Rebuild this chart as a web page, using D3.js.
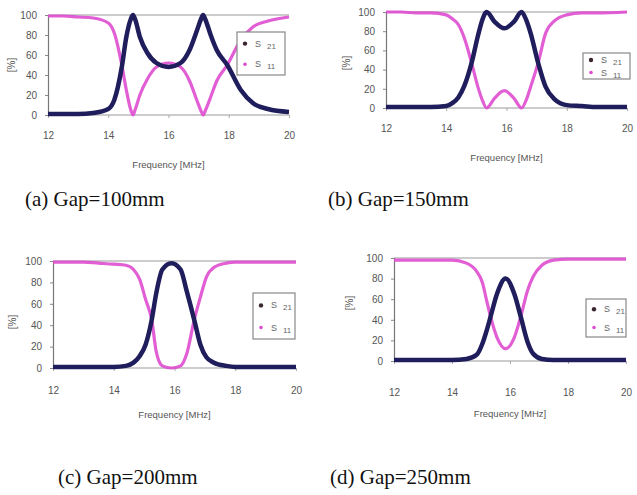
<!DOCTYPE html>
<html>
<head>
<meta charset="utf-8">
<script src="https://cdn.jsdelivr.net/npm/d3@7"></script>
<style>
    body { margin: 0; background: #fff; }
    svg { display: block; }
    .tick text { font-family: "Liberation Sans", Arial, sans-serif; fill: #555; }
</style>
</head>
<body>
<svg id="chart"></svg>
<script>
const width = 637, height = 495

// values (percent vs MHz)
const freqA = [12, 12.5, 13, 13.5, 14, 14.2, 14.45, 14.6, 14.75, 14.82, 14.9, 15.05, 15.3, 15.6, 16, 16.4, 16.7, 16.95, 17.08, 17.15, 17.23, 17.4, 17.6, 17.95, 18.4, 18.8, 19.3, 20]
const s21A = [1, 1, 1, 2, 6, 15, 48, 78, 96, 100, 95, 78, 62, 52, 48, 52, 65, 85, 96, 100, 95, 80, 65, 50, 25, 12, 6, 3]
const s11A = [99, 99, 98, 97, 92, 82, 50, 25, 5, 0, 6, 20, 36, 48, 52, 48, 34, 14, 4, 0, 5, 18, 34, 50, 75, 88, 94, 98]

const freqB = [12, 12.5, 13, 13.5, 14, 14.2, 14.4, 14.6, 14.85, 15.05, 15.2, 15.34, 15.6, 15.93, 16.25, 16.5, 16.65, 16.8, 17.05, 17.3, 17.6, 18, 18.5, 19, 20]
const s21B = [1, 1, 1, 1, 2, 5, 11, 23, 48, 75, 92, 100, 90, 83, 90, 100, 92, 78, 47, 22, 9, 3, 2, 1, 1]
const s11B = [100, 100, 99, 99, 97, 93, 87, 73, 46, 22, 8, 0, 10, 18, 10, 0, 8, 22, 47, 78, 91, 97, 99, 99, 100]

const freqC = [12, 13, 13.5, 14, 14.4, 14.65, 14.85, 15.05, 15.25, 15.4, 15.6, 15.9, 16.2, 16.4, 16.65, 16.85, 17.05, 17.3, 17.7, 18, 19, 20]
const s21C = [1, 1, 1, 1, 2, 5, 11, 22, 45, 70, 92, 98, 92, 72, 45, 22, 10, 5, 2, 1, 1, 1]
const s11C = [99, 99, 98, 97, 96, 92, 83, 64, 45, 15, 2, 0, 2, 13, 45, 66, 85, 94, 98, 99, 99, 99]

const freqD = [12, 13, 13.5, 14, 14.5, 14.85, 15.05, 15.2, 15.33, 15.55, 15.85, 16.15, 16.37, 16.6, 16.8, 17.1, 17.5, 18, 19, 20]
const s21D = [1, 1, 1, 1, 2, 6, 17, 30, 43, 65, 80, 65, 43, 19, 7, 2, 1, 1, 1, 1]
const s11D = [98, 98, 98, 98, 95, 87, 76, 58, 43, 23, 12, 23, 43, 68, 82, 93, 98, 99, 99, 99]

const xTicks = [12, 14, 16, 18, 20]
const yTicks = [0, 20, 40, 60, 80, 100]
const captions = ["(a) Gap=100mm", "(b) Gap=150mm", "(c) Gap=200mm", "(d) Gap=250mm"]
const seriesNames = [["S", "21"], ["S", "11"]]

const colS21 = "#1f1d5c", colS11 = "#de4ccf"

const panels = [
    { freq: freqA, s21: s21A, s11: s11A, caption: captions[0],
      l: 48, r: 289, t: 15, b: 115, tickGap: 14, titleY: 168, yLab: [12, 65],
      leg: { x: 237, y: 32, w: 48, h: 43 }, cap: [25, 206] },
    { freq: freqB, s21: s21B, s11: s11B, caption: captions[1],
      l: 386, r: 627, t: 12, b: 108, tickGap: 14, titleY: 161, yLab: [347, 63],
      leg: { x: 583, y: 53, w: 47, h: 26 }, cap: [328, 206] },
    { freq: freqC, s21: s21C, s11: s11C, caption: captions[2],
      l: 53, r: 296, t: 261, b: 368, tickGap: 16, titleY: 418, yLab: [13, 322],
      leg: { x: 253, y: 293, w: 42, h: 46 }, cap: [58, 484] },
    { freq: freqD, s21: s21D, s11: s11D, caption: captions[3],
      l: 394, r: 626, t: 258, b: 361, tickGap: 25, titleY: 417, yLab: [350, 303],
      leg: { x: 586, y: 299, w: 40, h: 38 }, cap: [330, 484] }
]

const svg = d3.select("#chart")
    .attr("width", width)
    .attr("height", height)
    .attr("viewBox", [0, 0, width, height])

function drawPanel(p) {
    const g = svg.append("g")

    const x = d3.scaleLinear().domain([12, 20]).range([p.l, p.r])
    const y = d3.scaleLinear().domain([0, 100]).range([p.b, p.t])

    // top and bottom frame lines
    g.append("line")
        .attr("x1", p.l).attr("x2", p.r)
        .attr("y1", y(100)).attr("y2", y(100))
        .attr("stroke", "#999").attr("stroke-width", 1.2)
    g.append("line")
        .attr("x1", p.l).attr("x2", p.r)
        .attr("y1", y(0)).attr("y2", y(0))
        .attr("stroke", "#999").attr("stroke-width", 1.2)

    g.append("g")
        .attr("transform", `translate(${p.l},0)`)
        .call(d3.axisLeft(y).tickValues(yTicks).tickSize(3).tickPadding(8))
        .call(g => g.select(".domain").attr("stroke", "#777").attr("stroke-width", 1.2))
        .call(g => g.selectAll(".tick line").attr("stroke", "#888"))
        .call(g => g.selectAll(".tick text").attr("font-size", 10))

    g.append("g")
        .attr("transform", `translate(0,${p.b})`)
        .call(d3.axisBottom(x).tickValues(xTicks).tickSize(3).tickPadding(p.tickGap))
        .call(g => g.select(".domain").remove())
        .call(g => g.selectAll(".tick line").attr("stroke", "#aaa"))
        .call(g => g.selectAll(".tick text").attr("font-size", 10))

    const line = vals => d3.line()
        .x((d, i) => x(p.freq[i]))
        .y(d => y(d))
        .curve(d3.curveMonotoneX)(vals)

    g.append("path")
        .attr("d", line(p.s11))
        .attr("fill", "none")
        .attr("stroke", colS11)
        .attr("stroke-width", 3.2)
        .attr("stroke-opacity", 0.9)

    g.append("path")
        .attr("d", line(p.s21))
        .attr("fill", "none")
        .attr("stroke", colS21)
        .attr("stroke-width", 4.5)
        .attr("stroke-linejoin", "round")

    // axis titles
    g.append("text")
        .attr("x", (p.l + p.r) / 2)
        .attr("y", p.titleY)
        .attr("text-anchor", "middle")
        .attr("font-family", "Liberation Sans, Arial, sans-serif")
        .attr("font-size", 9.5)
        .attr("fill", "#555")
        .text("Frequency [MHz]")

    g.append("text")
        .attr("transform", `translate(${p.yLab[0]},${p.yLab[1]}) rotate(-90)`)
        .attr("text-anchor", "middle")
        .attr("dominant-baseline", "middle")
        .attr("font-family", "Liberation Sans, Arial, sans-serif")
        .attr("font-size", 10)
        .attr("fill", "#555")
        .text("[%]")

    // legend
    const lg = g.append("g")
    lg.append("rect")
        .attr("x", p.leg.x).attr("y", p.leg.y)
        .attr("width", p.leg.w).attr("height", p.leg.h)
        .attr("fill", "#fff")
        .attr("stroke", "#888")
        .attr("stroke-width", 1.2)

    const rowY = [p.leg.y + p.leg.h * 0.27, p.leg.y + p.leg.h * 0.75]
    seriesNames.forEach((name, i) => {
        lg.append("circle")
            .attr("cx", p.leg.x + 8)
            .attr("cy", rowY[i])
            .attr("r", i === 0 ? 2.2 : 1.8)
            .attr("fill", i === 0 ? "#3a2430" : colS11)
        const t = lg.append("text")
            .attr("x", p.leg.x + 18)
            .attr("y", rowY[i] + 3)
            .attr("font-family", "Liberation Sans, Arial, sans-serif")
            .attr("font-size", 9)
            .attr("fill", "#666")
            .text(name[0])
        t.append("tspan")
            .attr("dx", 6)
            .attr("dy", 2)
            .attr("font-size", 8)
            .text(name[1])
    })

    // caption
    svg.append("text")
        .attr("x", p.cap[0])
        .attr("y", p.cap[1])
        .attr("font-family", "Liberation Serif, Times New Roman, serif")
        .attr("font-size", 21)
        .attr("fill", "#111")
        .text(p.caption)
}

panels.forEach(drawPanel)
</script>
</body>
</html>
